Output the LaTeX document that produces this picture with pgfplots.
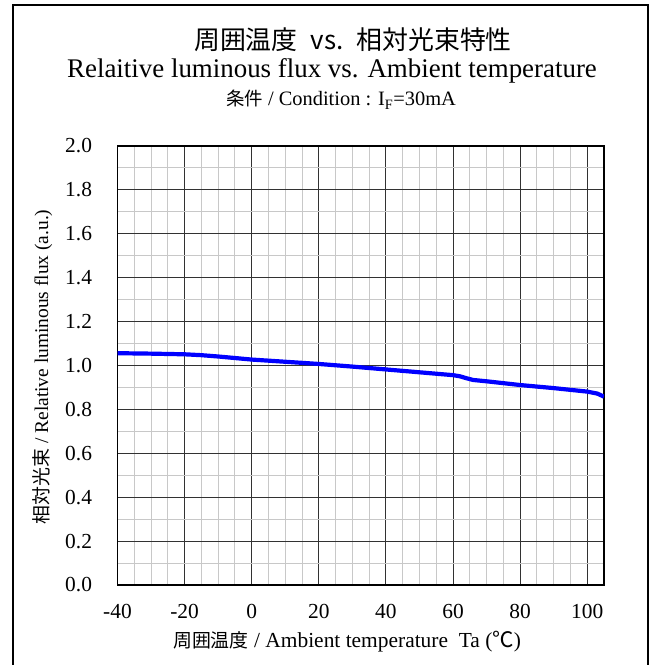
\documentclass[border=0pt]{standalone}
\usepackage{fontspec}
\setmainfont{Liberation Serif}
\newfontfamily\jp{Noto Sans CJK JP}
\usepackage{pgfplots}
\pgfplotsset{compat=1.18}
\definecolor{minorgrid}{RGB}{200,200,200}
\definecolor{majorgrid}{RGB}{50,50,50}
\begin{document}
\begin{tikzpicture}[x=1bp,y=1bp]
\useasboundingbox (0,0) rectangle (656,665);
\draw[line width=1.2bp] (13,0)--(13,660)--(648,660)--(648,0);
\node[anchor=base,inner sep=0] at (353,615) {\jp\fontsize{26}{26}\selectfont 周囲温度\hspace{0.5em}vs.\hspace{0.5em}相対光束特性};
\node[anchor=base,inner sep=0] at (332,587) {\fontsize{27}{27}\selectfont Relaitive luminous flux vs. Ambient temperature};
\node[anchor=base,inner sep=0] at (341,559) {\fontsize{20.5}{20.5}\selectfont{\jp\fontsize{18.5}{18.5}\selectfont 条件} / Condition : I\textsubscript{F}=30mA};
\node[anchor=base,inner sep=0] at (347,17) {\fontsize{21.5}{21.5}\selectfont{\jp\fontsize{19}{19}\selectfont 周囲温度} / Ambient temperature\ \ Ta ({\jp ℃})};
\node[anchor=base,inner sep=0,rotate=90] at (48,298) {\fontsize{19.5}{19.5}\selectfont{\jp\fontsize{19}{19}\selectfont 相対光束} / Relative luminous flux (a.u.)};
\begin{axis}[
  at={(117.5bp,80bp)}, anchor=south west,
  width=486.5bp, height=439bp, scale only axis,
  xmin=-40, xmax=105, ymin=0, ymax=2.0,
  xtick={-40,-20,0,20,40,60,80,100},
  ytick={0,0.2,0.4,0.6,0.8,1.0,1.2,1.4,1.6,1.8,2.0},
  minor x tick num=3, minor y tick num=1,
  grid=both,
  major grid style={majorgrid, line width=0.9bp},
  minor grid style={minorgrid, line width=0.9bp},
  major tick length=0pt, minor tick length=0pt,
  axis line style={black, line width=1.2bp},
  /pgf/number format/assume math mode=true,
  /pgf/number format/fixed, /pgf/number format/fixed zerofill,
  yticklabel style={/pgf/number format/precision=1, xshift=-22bp},
  xticklabel style={/pgf/number format/precision=0, /pgf/number format/fixed zerofill=false, yshift=-16bp},
  ticklabel style={font=\fontsize{21.5}{21.5}\selectfont},
]
\addplot[blue, line width=4.2bp, line join=round] coordinates {
(-40,1.056) (-30,1.054) (-20,1.051) (-15,1.047) (-10,1.041) (0,1.027) (10,1.017) (20,1.007) (30,0.995) (40,0.982) (50,0.969) (60,0.956) (62,0.951) (64,0.942) (66,0.934) (70,0.928) (80,0.911) (90,0.897) (100,0.881) (103,0.872) (105,0.858)
};
\end{axis}
\end{tikzpicture}
\end{document}
